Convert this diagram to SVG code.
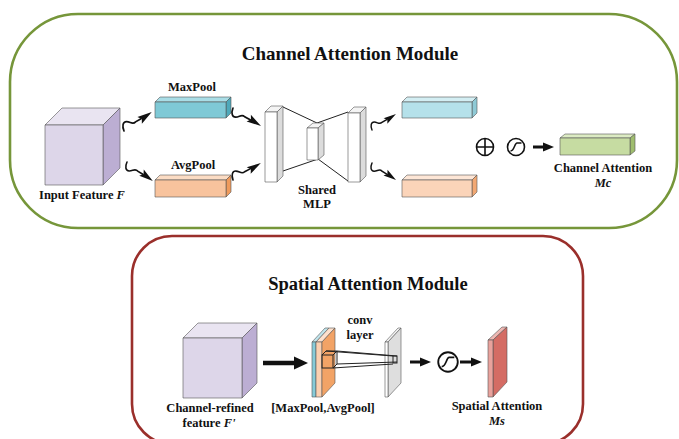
<svg xmlns="http://www.w3.org/2000/svg" width="679" height="439" viewBox="0 0 679 439">
<style>
text{font-family:"Liberation Serif","Times New Roman",serif;font-weight:bold;fill:#111;text-anchor:middle}
.t{font-size:19px}
.l{font-size:12.5px}
.e{stroke:#555;stroke-width:0.6;stroke-linejoin:round}
.wire{fill:none;stroke:#111;stroke-width:1.6;stroke-linecap:round}
.ln{fill:none;stroke:#222;stroke-width:1}
</style>
<defs>
<g id="sq">
<path class="wire" d="M0,0 C1,-5 4,-8 7,-6 C10,-4 10,0 14,-1 L20,-0.6"/>
<polygon points="32,0 18,-3.8 20.5,0 18,3.8" fill="#111"/>
</g>
<g id="sqd">
<path class="wire" d="M0,0 C1,5 4,8 7,6 C10,4 10,0 14,1 L20,0.6"/>
<polygon points="32,0 18,-3.8 20.5,0 18,3.8" fill="#111"/>
</g>
<g id="sig">
<circle r="8.5" fill="#fff" stroke="#111" stroke-width="1.6"/>
<path d="M-5.5,4 C-1.5,4 -1.5,-4 1,-4 L5.5,-4" fill="none" stroke="#111" stroke-width="1.5"/>
</g>
</defs>

<!-- module frames -->
<g id="channel-module">
<rect x="10" y="14" width="667" height="214" rx="68" ry="68" fill="none" stroke="#76963a" stroke-width="2.6"/>
<text class="t" x="350" y="60">Channel Attention Module</text>
</g>
<g id="spatial-module">
<rect x="132" y="236" width="451" height="208" rx="40" ry="40" fill="none" stroke="#9a2f2b" stroke-width="2.6"/>
<text class="t" x="368" y="290" style="font-size:18.5px">Spatial Attention Module</text>
</g>

<!-- input feature cube -->
<g id="input-feature">
<polygon class="e" points="45,125 62,108 120,108 103,125" fill="#e9e4f1"/>
<polygon class="e" points="103,125 120,108 120,168 103,185" fill="#bcaed3"/>
<rect class="e" x="45" y="125" width="58" height="60" fill="#ddd6e9"/>
<text class="l" x="82" y="199">Input Feature <tspan font-style="italic">F</tspan></text>
</g>

<!-- MaxPool bar -->
<g id="maxpool">
<polygon class="e" points="155,102 160,97 231,97 226,102" fill="#a9dde6"/>
<polygon class="e" points="226,102 231,97 231,113 226,118" fill="#4fa9ba"/>
<rect class="e" x="155" y="102" width="71" height="16" fill="#7fc9d6"/>
<text class="l" x="192" y="91">MaxPool</text>
</g>

<!-- AvgPool bar -->
<g id="avgpool">
<polygon class="e" points="155,180 160,175 231,175 226,180" fill="#fbdcc4"/>
<polygon class="e" points="226,180 231,175 231,192 226,197" fill="#ef9a5c"/>
<rect class="e" x="155" y="180" width="71" height="17" fill="#f8c39d"/>
<text class="l" x="193" y="169">AvgPool</text>
</g>

<!-- Shared MLP -->
<g id="shared-mlp">
<path class="ln" d="M283,107 L317,123 L348,112 M283,171 L318,159 L348,181"/>
<polygon class="e" points="265,112 271,106 283,106 277,112" fill="#f4f4f4"/>
<polygon class="e" points="277,112 283,106 283,176 277,182" fill="#dcdcdc"/>
<rect class="e" x="265" y="112" width="12" height="70" fill="#fff"/>
<polygon class="e" points="307,128 313,123 324,123 318,128" fill="#f4f4f4"/>
<polygon class="e" points="318,128 324,123 324,155 318,160" fill="#dcdcdc"/>
<rect class="e" x="307" y="128" width="11" height="32" fill="#fff"/>
<polygon class="e" points="348,113 354,107 366,107 360,113" fill="#f4f4f4"/>
<polygon class="e" points="360,113 366,107 366,176 360,182" fill="#dcdcdc"/>
<rect class="e" x="348" y="113" width="12" height="69" fill="#fff"/>
<text class="l" x="317" y="194">Shared</text>
<text class="l" x="317" y="208">MLP</text>
</g>

<!-- MLP outputs -->
<g id="mlp-out-max">
<polygon class="e" points="402,102 407,97 477,97 472,102" fill="#d3eef3"/>
<polygon class="e" points="472,102 477,97 477,113 472,118" fill="#8fcad6"/>
<rect class="e" x="402" y="102" width="70" height="16" fill="#b5e1ea"/>
</g>
<g id="mlp-out-avg">
<polygon class="e" points="402,180 407,175 477,175 472,180" fill="#fde6d6"/>
<polygon class="e" points="472,180 477,175 477,192 472,197" fill="#f2a873"/>
<rect class="e" x="402" y="180" width="70" height="17" fill="#fbd4b9"/>
</g>

<!-- sum and sigmoid -->
<g id="sum">
<circle cx="485" cy="147" r="8.5" fill="#fff" stroke="#111" stroke-width="1.6"/>
<path d="M476.5,147 H493.5 M485,138.5 V155.5" stroke="#111" stroke-width="1.6"/>
</g>
<g id="sigmoid-c">
<use href="#sig" transform="translate(516 147)"/>
</g>

<!-- channel attention -->
<g id="channel-attention">
<polygon class="e" points="560,138 565,134 635,134 630,138" fill="#dcebc3"/>
<polygon class="e" points="630,138 635,134 635,151 630,155" fill="#9fbd6e"/>
<rect class="e" x="560" y="138" width="70" height="17" fill="#c6dca2"/>
<text class="l" x="603" y="172">Channel Attention</text>
<text class="l" x="603" y="187" font-style="italic">Mc</text>
</g>

<!-- spatial module nodes -->
<g id="refined-feature">
<polygon class="e" points="183,338 198,323 257,323 242,338" fill="#e9e4f1"/>
<polygon class="e" points="242,338 257,323 257,383 242,398" fill="#bcaed3"/>
<rect class="e" x="183" y="338" width="59" height="60" fill="#ddd6e9"/>
<text class="l" x="210" y="412">Channel-refined</text>
<text class="l" x="209" y="427">feature <tspan font-style="italic">F'</tspan></text>
</g>

<g id="pooled-maps">
<polygon class="e" points="312,342 325,328 329,328 316,342" fill="#bfe4ec"/>
<polygon class="e" points="316,342 329,328 335,328 322,342" fill="#fde0cc"/>
<rect class="e" x="312" y="342" width="4" height="55" fill="#86cbd8"/>
<rect class="e" x="316" y="342" width="6" height="55" fill="#fbd0b1"/>
<polygon class="e" points="322,342 335,328 335,383 322,397" fill="#f2a366"/>
<text class="l" x="323" y="412">[MaxPool,AvgPool]</text>
</g>

<g id="conv-layer">
<polygon class="e" points="385,342 398,328 401,328 388,342" fill="#f4f4f4"/>
<polygon class="e" points="388,342 401,328 401,383 388,397" fill="#dedede"/>
<rect class="e" x="385" y="342" width="3" height="55" fill="#fff"/>
<text class="l" x="360" y="324">conv</text>
<text class="l" x="360" y="339">layer</text>
</g>

<g id="spatial-attention">
<polygon class="e" points="488,340 502,327 507,327 493,340" fill="#eeb7b2"/>
<polygon class="e" points="493,340 507,327 507,382 493,397" fill="#d46c64"/>
<rect class="e" x="488" y="340" width="5" height="57" fill="#e9a29c"/>
<text class="l" x="497" y="410">Spatial Attention</text>
<text class="l" x="497" y="425" font-style="italic">Ms</text>
</g>

<g id="sigmoid-s">
<use href="#sig" transform="translate(448 362) scale(1.15)"/>
</g>

<!-- connectors -->
<g id="connectors">
<use href="#sq" transform="translate(124 131) rotate(-34.2) scale(1.05)"/>
<use href="#sqd" transform="translate(127 162) rotate(36.2) scale(1.0)"/>
<use href="#sqd" transform="translate(233 108) rotate(32.7) scale(1.04)"/>
<use href="#sq" transform="translate(233 180) rotate(-31.3) scale(1.02)"/>
<use href="#sq" transform="translate(372 130) rotate(-33.7) scale(0.9)"/>
<use href="#sqd" transform="translate(372 163) rotate(35.3) scale(0.92)"/>
<!-- sigmoid -> channel attention -->
<path d="M533,147 H545" stroke="#111" stroke-width="3"/>
<polygon points="554,147 543,142.5 543,151.5" fill="#111"/>
<!-- projection lines of conv -->
<g class="ln" stroke-width="0.9">
<rect x="322" y="355" width="11" height="13" fill="none" stroke="#222"/>
<path d="M322,355 L326,351 H337 L333,355 M337,351 V364 L333,368"/>
<path d="M326,351 L393,356 M337,351 L397,356 M333,368 L393,364 M337,364 L397,362"/>
<rect x="393" y="356" width="4" height="7" fill="none" stroke="#222"/>
</g>
<!-- refined feature -> pooled -->
<path d="M263,363 H296" stroke="#111" stroke-width="4.5"/>
<polygon points="308,363 294,356.5 294,369.5" fill="#111"/>
<!-- conv -> sigmoid -->
<path d="M410,362 H421" stroke="#111" stroke-width="3"/>
<polygon points="431,362 420,357.5 420,366.5" fill="#111"/>
<!-- sigmoid -> spatial attention -->
<path d="M460,362 H472" stroke="#111" stroke-width="3"/>
<polygon points="482,362 471,357.5 471,366.5" fill="#111"/>
</g>
</svg>
